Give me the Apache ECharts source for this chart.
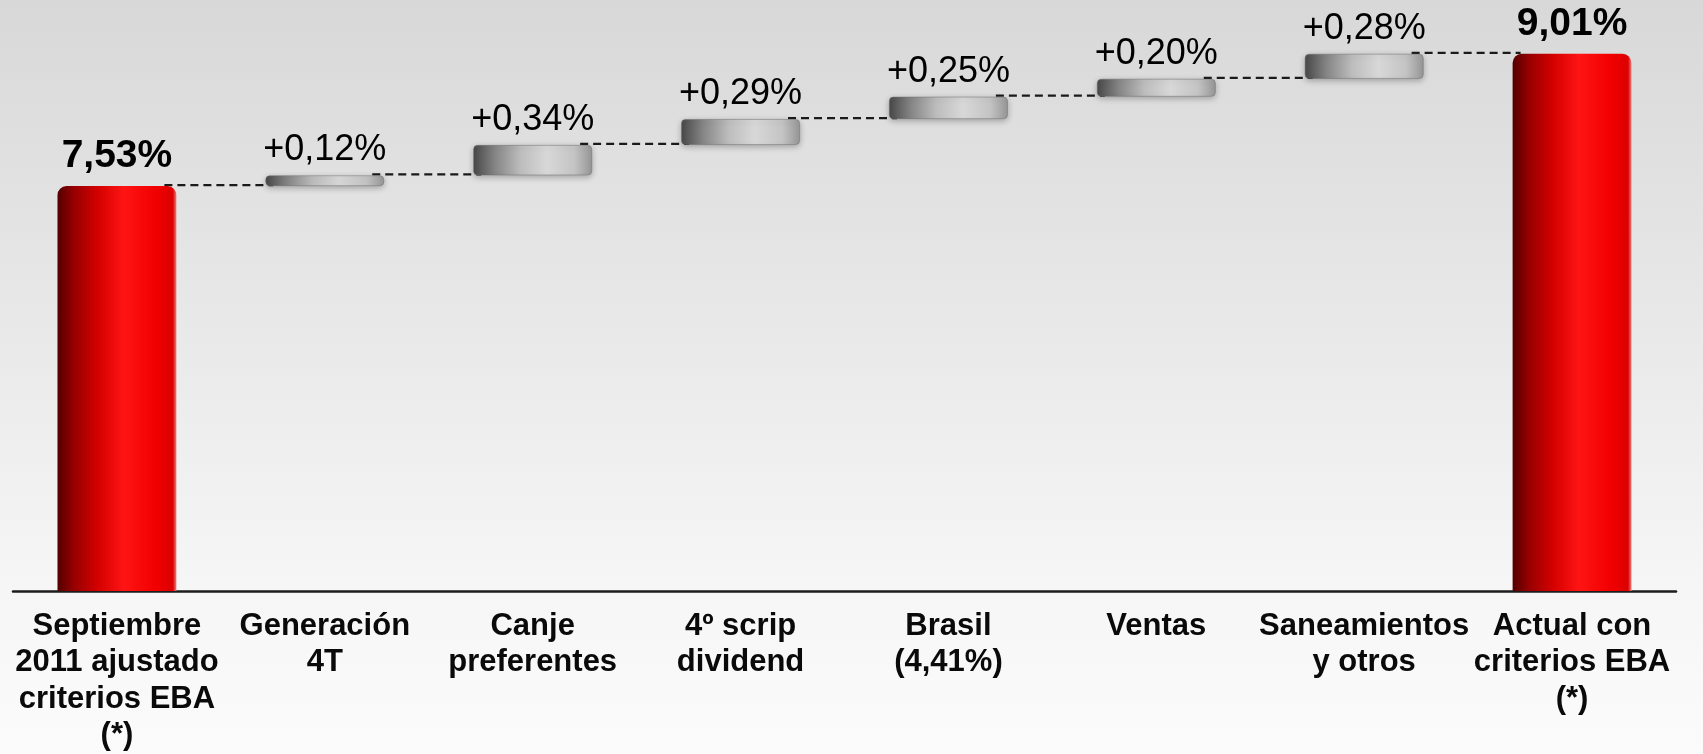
<!DOCTYPE html>
<html>
<head>
<meta charset="utf-8">
<title>Evolución core capital EBA</title>
<script src="https://cdn.jsdelivr.net/npm/echarts@6/dist/echarts.min.js"></script>
<style>
  html, body { margin: 0; padding: 0; width: 1703px; height: 754px; overflow: hidden; }
  #chart { width: 1703px; height: 754px; }
</style>
</head>
<body>
<div id="chart"></div>
<script>
// Waterfall: starting ratio, six contributions, final ratio (all in %)
const categories = [
  'Septiembre\n2011 ajustado\ncriterios EBA\n(*)',
  'Generación\n4T',
  'Canje\npreferentes',
  '4º scrip\ndividend',
  'Brasil\n(4,41%)',
  'Ventas',
  'Saneamientos\ny otros',
  'Actual con\ncriterios EBA\n(*)'
];
const startValue = 7.53;
const endValue = 9.01;
const increments = [0.12, 0.34, 0.29, 0.25, 0.20, 0.28];

const n = categories.length;
const fmt = v => v.toFixed(2).replace('.', ',');

// invisible base under each floating step
const baseData = ['-'];
const stepData = ['-'];
const totalData = [startValue];
let level = startValue;
increments.forEach(d => {
  baseData.push(+level.toFixed(2));
  stepData.push(d);
  totalData.push('-');
  level += d;
});
baseData.push('-');
stepData.push('-');
totalData.push(endValue);

// connector levels: top of each bar, joined to the next bar
const connectorData = [[0, startValue]];
let acc = startValue;
increments.forEach((d, i) => { acc += d; connectorData.push([i + 1, +acc.toFixed(2)]); });

const BAR_RATIO = 0.572;

const redFill = new echarts.graphic.LinearGradient(0, 0, 1, 0, [
  { offset: 0, color: '#520000' },
  { offset: 0.14, color: '#980000' },
  { offset: 0.34, color: '#d40000' },
  { offset: 0.56, color: '#ff1414' },
  { offset: 0.82, color: '#f20000' },
  { offset: 0.97, color: '#dc0000' },
  { offset: 1, color: '#e88080' }
]);
const greyFill = new echarts.graphic.LinearGradient(0, 0, 1, 0, [
  { offset: 0, color: '#474747' },
  { offset: 0.18, color: '#848484' },
  { offset: 0.4, color: '#bdbdbd' },
  { offset: 0.62, color: '#d8d8d8' },
  { offset: 0.85, color: '#c4c4c4' },
  { offset: 1, color: '#969696' }
]);

const chart = echarts.init(document.getElementById('chart'), null, { renderer: 'canvas' });

chart.setOption({
  animation: false,
  backgroundColor: new echarts.graphic.LinearGradient(0, 0, 0, 1, [
    { offset: 0, color: '#d8d8d8' },
    { offset: 0.78, color: '#f6f6f6' },
    { offset: 1, color: '#fbfbfb' }
  ]),
  textStyle: { fontFamily: '"Liberation Sans", Arial, sans-serif' },
  grid: { left: 13, right: 27, top: 10, bottom: 161, containLabel: false },
  xAxis: {
    type: 'category',
    data: categories,
    axisLine: { show: true, lineStyle: { color: '#1c1c1c', width: 2.5 } },
    axisTick: { show: false },
    axisLabel: {
      interval: 0,
      margin: 17,
      color: '#0a0a0a',
      fontSize: 31,
      fontWeight: 'bold',
      lineHeight: 36.5,
      fontFamily: '"Liberation Sans", Arial, sans-serif'
    },
    splitLine: { show: false }
  },
  yAxis: {
    type: 'value',
    min: 3,
    max: 9.5,
    show: false,
    splitLine: { show: false }
  },
  series: [
    {
      name: 'connector',
      type: 'custom',
      z: 1,
      silent: true,
      data: connectorData,
      renderItem: function (params, api) {
        const i = api.value(0);
        if (i >= n - 1) return null;
        const p = api.coord([i, api.value(1)]);
        const step = api.size([1, 0])[0];
        const bw = step * BAR_RATIO;
        const x1 = p[0] + bw / 2 - 12;
        const x2 = p[0] + step - bw / 2 + 8;
        return {
          type: 'line',
          shape: { x1: x1, y1: p[1] - 1, x2: x2, y2: p[1] - 1 },
          style: { stroke: '#1a1a1a', lineWidth: 2.2, lineDash: [8, 5] }
        };
      }
    },
    {
      name: 'base',
      type: 'bar',
      stack: 'w',
      barWidth: (BAR_RATIO * 100) + '%',
      z: 2,
      silent: true,
      itemStyle: { color: 'rgba(0,0,0,0)' },
      data: baseData
    },
    {
      name: 'step',
      type: 'bar',
      stack: 'w',
      barWidth: (BAR_RATIO * 100) + '%',
      z: 3,
      itemStyle: {
        color: greyFill,
        borderRadius: 4,
        borderColor: 'rgba(110,110,110,0.6)',
        borderWidth: 0.8,
        shadowBlur: 6,
        shadowColor: 'rgba(0,0,0,0.28)',
        shadowOffsetY: 2
      },
      label: {
        show: true,
        position: 'top',
        distance: 7,
        color: '#000',
        fontSize: 36,
        fontFamily: '"Liberation Sans", Arial, sans-serif',
        formatter: p => '+' + fmt(p.value) + '%'
      },
      data: stepData
    },
    {
      name: 'total',
      type: 'bar',
      stack: 'w',
      barWidth: (BAR_RATIO * 100) + '%',
      z: 3,
      itemStyle: {
        color: redFill,
        borderRadius: [9, 9, 0, 0]
      },
      label: {
        show: true,
        position: 'top',
        distance: 10,
        color: '#000',
        fontSize: 39,
        fontWeight: 'bold',
        fontFamily: '"Liberation Sans", Arial, sans-serif',
        formatter: p => fmt(p.value) + '%'
      },
      data: totalData
    }
  ]
});
</script>
</body>
</html>
